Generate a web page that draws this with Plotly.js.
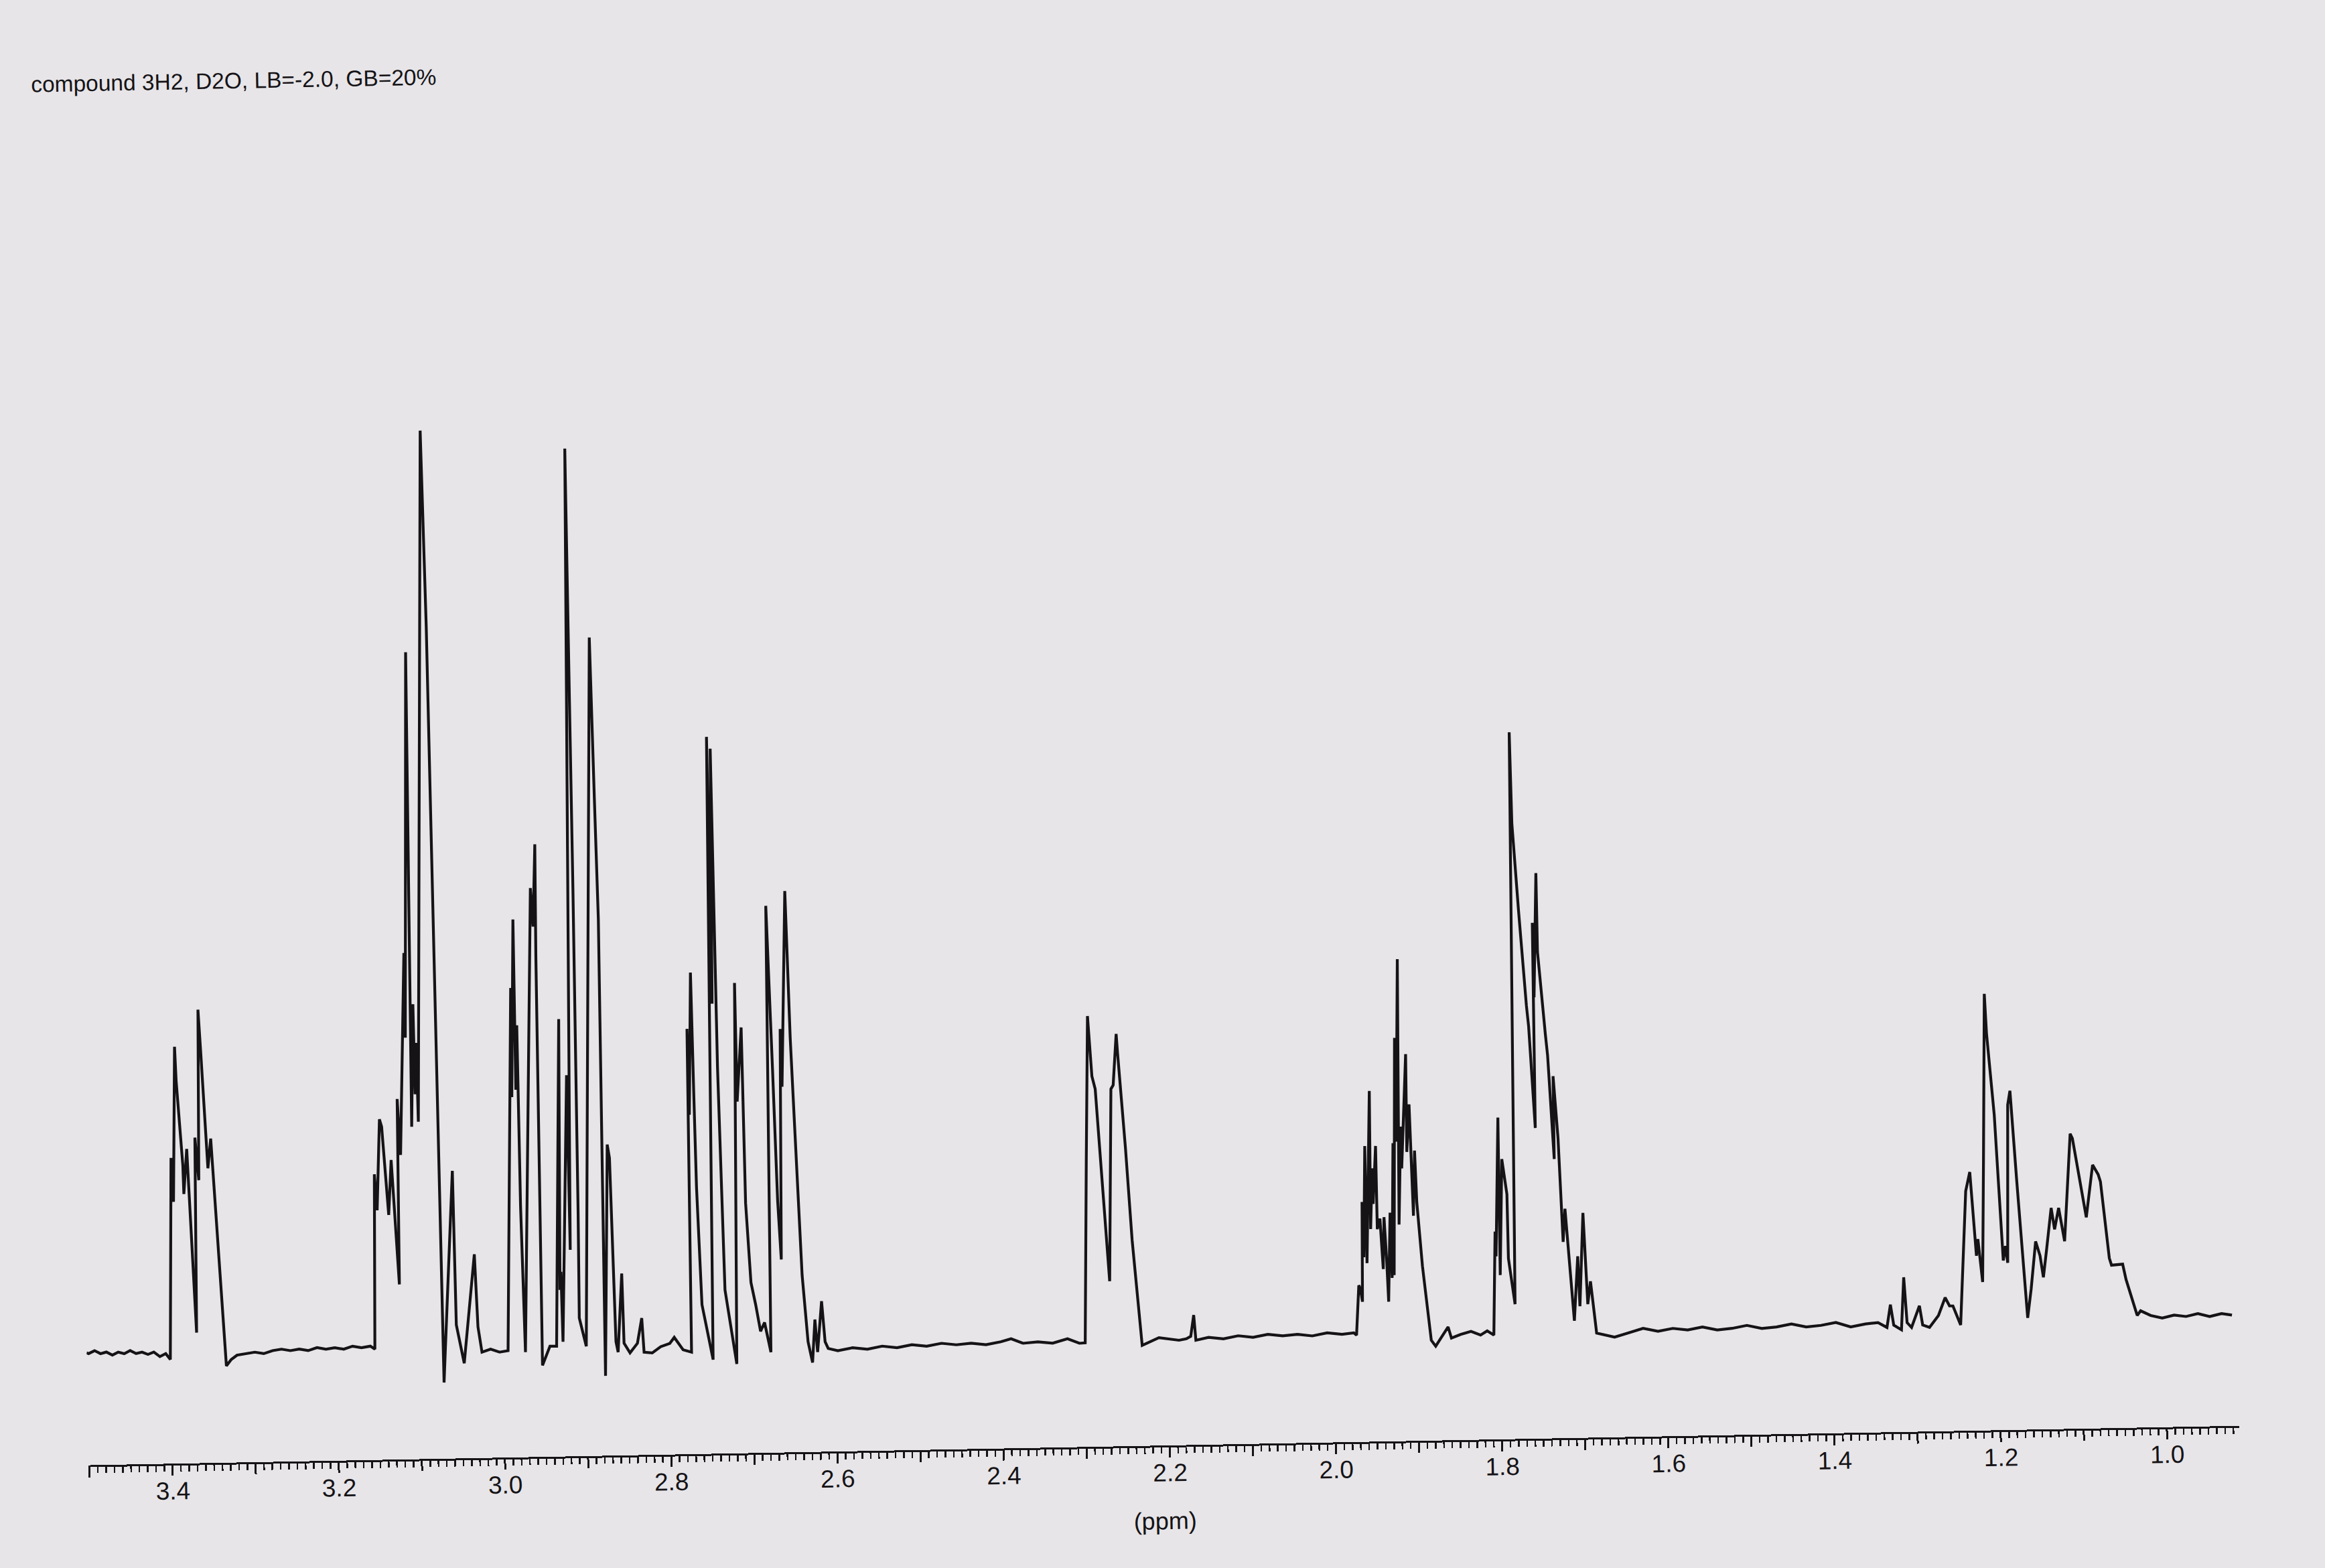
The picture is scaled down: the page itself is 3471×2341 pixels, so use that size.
<!DOCTYPE html>
<html>
<head>
<meta charset="utf-8">
<script src="https://cdn.plot.ly/plotly-3.0.1.min.js"></script>
<style>
html, body { margin: 0; padding: 0; background: #e7e5e8; overflow: hidden; }
/* the scanned sheet sits about one degree off square */
#spectrum { width: 3471px; height: 2341px; transform: rotate(-1.05deg); transform-origin: 50% 50%; }
</style>
</head>
<body>
<div id="spectrum"></div>
<script>
// trace, pen path order: [shift ppm, intensity]
var baseLeft = [[3.5010,0.5],[3.4986,0],[3.4914,1.9],[3.4843,-0.2],[3.4772,0.8],[3.4700,-1.3],[3.4629,0.6],[3.4557,-0.5],[3.4486,1.5],[3.4415,-0.6],[3.4343,0.3],[3.4272,-1.3],[3.4201,0.2],[3.4129,-2.9],[3.4058,-1.0],[3.4004,-5.0]];
var m338 = [[3.3952,130.9],[3.3931,101.3],[3.3885,205.9],[3.3873,182.9],[3.3811,125.8],[3.3805,106.4],[3.3761,136.8],[3.3682,12.8],[3.3660,144.3],[3.3622,115.6],[3.3595,230.6],[3.3572,203.0],[3.3510,123.5],[3.3470,143.5],[3.3331,-10.0]];
var base325 = [[3.3272,-5.8],[3.3201,-2.9],[3.3094,-2.0],[3.2986,-1.1],[3.2879,-2.2],[3.2772,-0.3],[3.2665,0.6],[3.2558,-0.5],[3.2451,0.4],[3.2344,-0.7],[3.2237,1.2],[3.2130,0.0],[3.2023,0.9],[3.1916,-0.2],[3.1809,1.7],[3.1702,0.6],[3.1595,1.5],[3.1541,-0.6]];
var m310 = [[3.1509,117.4],[3.1483,93.1],[3.1436,154.4],[3.1411,149.4],[3.1345,89.8],[3.1304,126.8],[3.1232,42.8],[3.1218,167.9],[3.1189,130.1],[3.1105,266.3],[3.1106,209.1],[3.1018,469.1],[3.1049,149.0],[3.1008,231.6],[3.1001,170.9],[3.0977,205.5],[3.0968,152.3],[3.0794,618.4],[3.0764,486.4],[3.0716,-23.9]];
var m295 = [[3.0570,118.7],[3.0556,14.8],[3.0469,-11.2],[3.0324,62.2],[3.0296,13.2],[3.0253,-3.9],[3.0149,-2.0],[3.0042,-4.1],[2.9939,-3.2],[2.9828,241.4],[2.9838,167.7],[2.9786,287.5],[2.9788,172.7],[2.9763,216.1],[2.9757,94.0],[2.9730,-4.4],[2.9569,308.5],[2.9545,282.5],[2.9506,338.0],[2.9518,262.4],[2.9528,-13.6],[2.9434,-0.7],[2.9354,-0.8],[2.9257,219.8],[2.9301,37.1],[2.9286,49.3],[2.9276,2.1],[2.9175,181.8],[2.9169,64.0],[2.9058,604.5],[2.9057,307.0],[2.9066,88.9],[2.9075,17.9],[2.8997,-1.2],[2.8805,476.8],[2.8779,366.7],[2.8758,286.7],[2.8772,-21.4],[2.8701,134.6],[2.8677,125.5],[2.8639,1.5],[2.8615,-5.6],[2.8555,47.4],[2.8542,0.4],[2.8472,-6.2],[2.8381,0.2],[2.8324,17.1],[2.8303,-5.9],[2.8205,-6.5],[2.8102,-2.4],[2.7992,-0.4],[2.7937,3.7],[2.7833,-4.8]];
var m275 = [[2.7732,-6.5],[2.7716,211.6],[2.7706,153.6],[2.7662,249.5],[2.7648,165.5],[2.7636,104.5],[2.7596,25.4],[2.7474,-11.8],[2.7417,408.3],[2.7408,228.3],[2.7375,400.3],[2.7357,185.2],[2.7316,35.1],[2.7190,-15.0],[2.7134,242.0],[2.7128,162.0],[2.7064,211.9],[2.7049,93.4],[2.7002,39.8],[2.6950,24.7],[2.6897,6.7],[2.6847,12.6],[2.6777,-7.5],[2.6741,293.6],[2.6696,184.5],[2.6663,94.5],[2.6632,54.9],[2.6595,210.4],[2.6585,171.4],[2.6509,303.4],[2.6476,204.3],[2.6442,144.2],[2.6385,44.2],[2.6328,-0.9],[2.6278,-15.0],[2.6241,14.0],[2.6215,-8.0],[2.6157,26.3],[2.6123,-1.1],[2.6087,-5.7]];
var base245 = [[2.5972,-7.3],[2.5794,-5.5],[2.5615,-6.7],[2.5437,-4.8],[2.5259,-6.0],[2.5080,-4.2],[2.4902,-5.4],[2.4723,-3.6],[2.4545,-4.8],[2.4366,-3.9],[2.4188,-5.1],[2.4009,-3.3],[2.3885,-1.4],[2.3742,-4.6],[2.3563,-3.8],[2.3385,-4.9],[2.3206,-2.1],[2.3064,-5.3]];
var d227 = [[2.2994,-5.1],[2.2941,117.7],[2.2895,215.3],[2.2855,174.7],[2.2818,166.0],[2.2686,36.2],[2.2629,165.8],[2.2601,168.4],[2.2554,202.9],[2.2541,189.9],[2.2467,125.9],[2.2407,63.6],[2.2309,-7.5],[2.2106,-2.5],[2.1865,-4.5]];
var base210 = [[2.1777,-3.6],[2.1723,-2.0],[2.1683,12.3],[2.1662,-4.7],[2.1509,-2.9],[2.1330,-4.1],[2.1152,-2.2],[2.0974,-3.4],[2.0795,-1.6],[2.0617,-2.8],[2.0438,-2.0],[2.0260,-3.2],[2.0081,-1.3],[1.9903,-2.5],[1.9760,-1.7]];
var m193 = [[1.9728,-3.3],[1.9690,30.3],[1.9673,28.3],[1.9649,19.2],[1.9633,86.5],[1.9623,49.2],[1.9588,124.2],[1.9586,45.2],[1.9521,161.3],[1.9535,68.1],[1.9504,109.1],[1.9499,85.1],[1.9458,124.1],[1.9455,68.0],[1.9421,75.0],[1.9392,41.0],[1.9372,76.0],[1.9349,46.9],[1.9334,18.9],[1.9298,78.9],[1.9287,34.9],[1.9248,125.8],[1.9262,36.8],[1.9206,196.8],[1.9209,126.8],[1.9155,249.8],[1.9192,70.8],[1.9152,136.8],[1.9148,108.7],[1.9076,185.7],[1.9083,119.7],[1.9046,151.7],[1.9017,76.6],[1.8990,120.5],[1.8974,85.6],[1.8920,42.5],[1.8830,-7.6],[1.8778,-11.7],[1.8708,-5.8],[1.8625,1.2],[1.8587,-6.4]];
var base183 = [[1.8475,-4.0],[1.8350,-2.1],[1.8236,-4.7],[1.8155,-2.0],[1.8076,-4.9]];
var m178 = [[1.8039,64.9],[1.8032,48.2],[1.7980,141.8],[1.7986,35.5],[1.7942,113.7],[1.7888,89.9],[1.7884,46.6],[1.7814,15.7],[1.7759,401.5],[1.7747,340.0],[1.7686,281.3],[1.7612,216.9],[1.7590,202.9],[1.7532,134.3],[1.7523,272.7],[1.7518,222.4],[1.7469,306.2],[1.7467,253.1],[1.7390,197.1],[1.7368,183.0],[1.7311,113.1],[1.7307,169.0],[1.7261,127.2],[1.7222,57.1],[1.7193,79.4],[1.7104,3.8],[1.7050,47.2],[1.7034,13.5],[1.6978,76.4],[1.6939,14.8],[1.6902,30.2],[1.6839,-4.8],[1.6624,-7.8]];
var base150 = [[1.6457,-5.1],[1.6279,-2.2],[1.6100,-4.4],[1.5922,-2.6],[1.5743,-3.8],[1.5565,-2.0],[1.5387,-4.2],[1.5208,-3.3],[1.5030,-1.5],[1.4851,-3.7],[1.4673,-2.9],[1.4494,-1.1],[1.4316,-3.3],[1.4138,-2.4],[1.3959,-0.6],[1.3781,-3.8],[1.3602,-2.0]];
var m120 = [[1.3451,-1.2],[1.3345,-4.6],[1.3299,10.7],[1.3263,-3.1],[1.3171,-6.4],[1.3133,29.0],[1.3102,-1.6],[1.3049,-4.9],[1.2950,9.6],[1.2915,-3.4],[1.2833,-5.1],[1.2723,2.8],[1.2639,14.8],[1.2588,9.2],[1.2547,9.1],[1.2458,-3.9],[1.2368,86.4],[1.2315,99.2],[1.2253,42.6],[1.2232,53.9],[1.2184,24.9],[1.2147,107.2],[1.2101,219.2],[1.2083,192.6],[1.2008,137.6],[1.1931,39.1],[1.1902,48.8],[1.1878,37.5],[1.1844,144.0],[1.1814,153.5],[1.1753,93.8],[1.1650,0.1],[1.1602,19.5],[1.1538,51.6],[1.1488,41.9],[1.1452,27.3],[1.1406,46.7],[1.1344,74.0],[1.1307,59.5],[1.1254,73.9],[1.1189,51.3],[1.1099,123.8],[1.1073,120.6],[1.1000,94.7],[1.0923,67.2],[1.0836,102.5],[1.0771,96.0],[1.0745,91.1],[1.0655,39.4],[1.0630,34.6],[1.0496,35.2],[1.0458,24.7],[1.0332,0.4],[1.0290,3.5],[1.0170,0.2]];
var baseRight = [[1.0031,-1.7],[0.9888,0.2],[0.9745,-0.9],[0.9602,0.9],[0.9460,-1.2],[0.9317,0.6],[0.9192,-0.5]];

var majorTicks = [3.5,3.4,3.3,3.2,3.1,3.0,2.9,2.8,2.7,2.6,2.5,2.4,2.3,2.2,2.1,2.0,1.9,1.8,1.7,1.6,1.5,1.4,1.3,1.2,1.1,1.0];
var tickText = ['','3.4','','3.2','','3.0','','2.8','','2.6','','2.4','','2.2','','2.0','','1.8','','1.6','','1.4','','1.2','','1.0'];

var ink = '#151316';
var paper = '#e7e5e8';

var segments = [baseLeft, m338, base325, m310, m295, m275, base245, d227, base210, m193, base183, m178, base150, m120, baseRight];
var ppm = [];
var inten = [];
segments.forEach(function (seg) {
    seg.forEach(function (p) {
        ppm.push(p[0]);
        inten.push(p[1]);
    });
});

var trace = {
    x: ppm,
    y: inten,
    type: 'scatter',
    mode: 'lines',
    line: { color: ink, width: 4.2, simplify: false },
    hoverinfo: 'skip'
};

var layout = {
    width: 3471,
    height: 2341,
    paper_bgcolor: paper,
    plot_bgcolor: paper,
    margin: { l: 114, r: 146, t: 300, b: 183, pad: 0 },
    showlegend: false,
    font: { family: 'Liberation Sans, Arial, sans-serif', color: ink },
    title: {
        text: 'compound 3H2, D2O, LB=-2.0, GB=20%',
        x: 0.0189, xanchor: 'left',
        y: 0.9594, yanchor: 'middle',
        font: { size: 33.5, color: ink }
    },
    xaxis: {
        range: [3.501, 0.913],
        autorange: false,
        showgrid: false,
        zeroline: false,
        showline: true,
        linecolor: ink,
        linewidth: 3,
        ticks: 'outside',
        ticklen: 15,
        tickwidth: 3,
        tickcolor: ink,
        tickmode: 'array',
        tickvals: majorTicks,
        ticktext: tickText,
        tickfont: { size: 37, color: ink },
        ticklabelstandoff: -9,
        minor: { dtick: 0.01, tick0: 0, ticks: 'outside', ticklen: 9, tickwidth: 2.5, tickcolor: ink, showgrid: false },
        title: { text: '(ppm)', font: { size: 36, color: ink }, standoff: 40 }
    },
    yaxis: {
        range: [-75.3, 764.2],
        autorange: false,
        visible: false,
        showgrid: false,
        zeroline: false
    }
};

Plotly.newPlot('spectrum', [trace], layout, { staticPlot: true, displayModeBar: false });
</script>
</body>
</html>
